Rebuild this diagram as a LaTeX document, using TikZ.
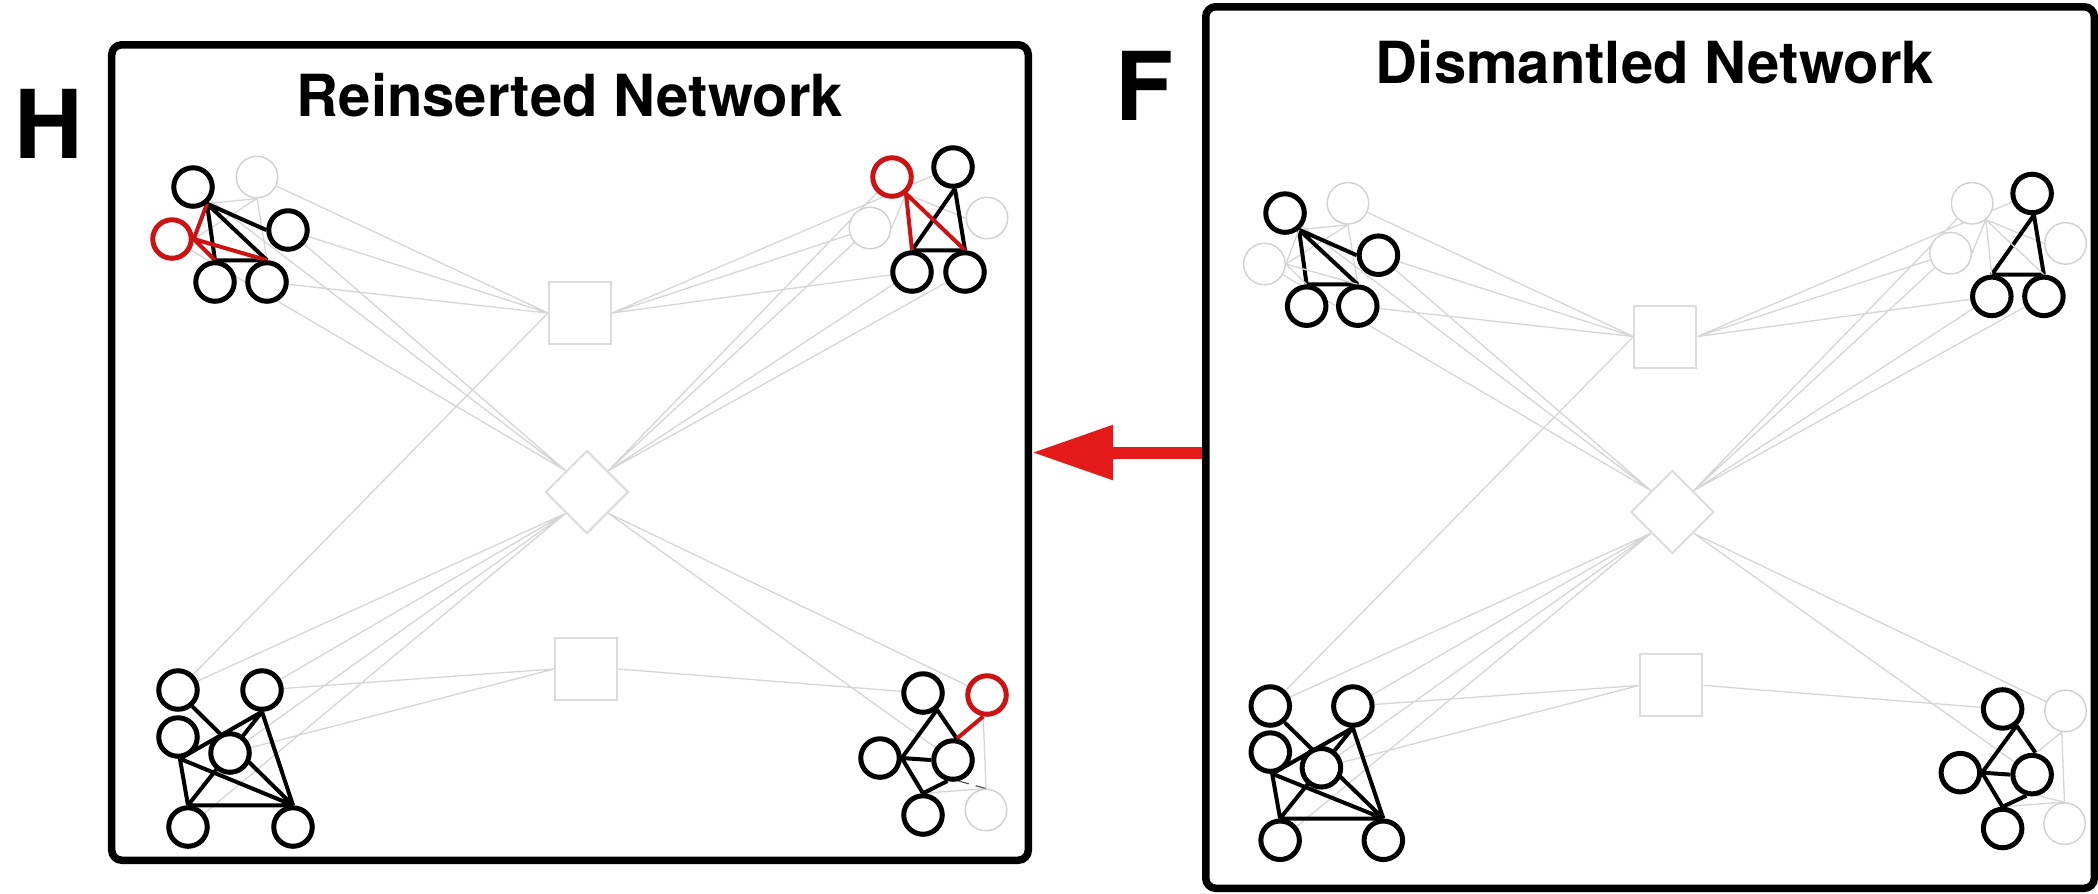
\documentclass[tikz,border=0pt]{standalone}
\usepackage{fontspec}
\setsansfont{TeX Gyre Heros}
\usetikzlibrary{shapes.geometric,arrows.meta}
\pgfdeclarelayer{bg}
\pgfdeclarelayer{edges}
\pgfsetlayers{bg,edges,main}

\definecolor{edgegray}{RGB}{214,214,214}
\definecolor{nodegray}{RGB}{208,208,208}
\definecolor{hubgray}{RGB}{220,220,220}
\definecolor{reinred}{RGB}{204,18,18}
\definecolor{arrowred}{RGB}{228,26,26}

\tikzset{
  blk/.style={circle, draw=black, line width=0.05cm, fill=white, minimum size=0.385cm, inner sep=0pt},
  gry/.style={circle, draw=nodegray, line width=0.014cm, fill=white, minimum size=0.415cm, inner sep=0pt},
  rein/.style={blk, draw=reinred},
  sqhub/.style={rectangle, draw=hubgray, line width=0.02cm, fill=white, minimum size=0.62cm, inner sep=0pt},
  dmhub/.style={diamond, draw=hubgray, line width=0.02cm, fill=white, minimum width=0.83cm, minimum height=0.83cm, inner sep=0pt},
  bedge/.style={draw=black, line width=0.04cm},
  gedge/.style={draw=edgegray, line width=0.013cm},
  redge/.style={draw=reinred, line width=0.04cm},
  dotedge/.style={draw=black!65, line width=0.012cm, densely dashed},
  panel/.style={draw=black, line width=0.075cm, rounded corners=0.1cm, inner sep=0pt},
  paneltitle/.style={font=\sffamily\bfseries\fontsize{16.5}{20}\selectfont, anchor=base, inner sep=0pt},
  panelletter/.style={font=\sffamily\bfseries\fontsize{27}{32}\selectfont, anchor=base, inner sep=0pt},
}

% One network: #1 name prefix, #2 style of the reinserted nodes,
% #3 style of their edges, #4 style of the short edge in the lower-right group
\newcommand\netlayer[4]{%
  % hub nodes
  \node[sqhub] (#1s1) at (580,313) {};
  \node[dmhub] (#1dm) at (587,492) {};
  \node[sqhub] (#1s2) at (586,669) {};
  % upper-left group
  \node[blk] (#1a1) at (193,187) {};
  \node[gry] (#1a2) at (257,177) {};
  \node[blk] (#1a3) at (288,230) {};
  \node[#2]  (#1a4) at (172,239) {};
  \node[blk] (#1a5) at (215,282) {};
  \node[blk] (#1a6) at (267,282) {};
  % upper-right group
  \node[#2]  (#1b1) at (892,177) {};
  \node[blk] (#1b2) at (953,167) {};
  \node[gry] (#1b3) at (870,228) {};
  \node[gry] (#1b4) at (987,218) {};
  \node[blk] (#1b5) at (912,272) {};
  \node[blk] (#1b6) at (965,272) {};
  % lower-left group
  \node[blk] (#1c1) at (178,690) {};
  \node[blk] (#1c2) at (262,690) {};
  \node[blk] (#1c3) at (178,737) {};
  \node[blk] (#1c4) at (230,753) {};
  \node[blk] (#1c5) at (188,827) {};
  \node[blk] (#1c6) at (293,827) {};
  % lower-right group
  \node[blk] (#1d1) at (923,693) {};
  \node[#2]  (#1d2) at (987,695) {};
  \node[blk] (#1d3) at (880,758) {};
  \node[blk] (#1d4) at (953,760) {};
  \node[blk] (#1d5) at (923,815) {};
  \node[gry] (#1d6) at (986,810) {};
  \begin{pgfonlayer}{edges}
    % links to the hubs
    \draw[gedge] (#1a2) -- (#1s1.west) (#1a3) -- (#1s1.west) (#1a6) -- (#1s1.west)
                 (#1a1) -- (#1dm.north west) (#1a3) -- (#1dm.north west) (#1a4) -- (#1dm.north west);
    \draw[gedge] (#1b2) -- (#1s1.east) (#1b3) -- (#1s1.east) (#1b5) -- (#1s1.east)
                 (#1b1) -- (#1dm.north east) (#1b3) -- (#1dm.north east)
                 (#1b5) -- (#1dm.north east) (#1b6) -- (#1dm.north east);
    \draw[gedge] (#1c1) -- (#1s1.west)
                 (#1c1) -- (#1dm.south west) (#1c2) -- (#1dm.south west)
                 (#1c4) -- (#1dm.south west) (#1c5) -- (#1dm.south west)
                 (#1c2) -- (#1s2.west) (#1c4) -- (#1s2.west);
    \draw[gedge] (#1d2) -- (#1dm.south east) (#1d4) -- (#1dm.south east) (#1d1) -- (#1s2.east);
    % links among the groups' nodes
    \draw[gedge] (#1a1.-50) -- (#1a2.-90) (#1a2.-90) -- (#1a4.0) (#1a2.-90) -- (#1a6.90);
    \draw[gedge] (#1b1.-50) -- (#1b4.180) (#1b1.-50) -- (#1b3.0);
    \draw[gedge] (#1d2.-100) -- (#1d6.90) (#1d6.90) -- (#1d5.90);
    \draw[#4] (#1d4.-75) -- (#1d6.90);
    \draw[bedge] (#1a1.-50) -- (#1a5.90) (#1a1.-50) -- (#1a6.90) (#1a1.-50) -- (#1a3.180)
                 (#1a5.90) -- (#1a6.90);
    \draw[bedge] (#1b2.-85) -- (#1b5.90) (#1b2.-85) -- (#1b6.90) (#1b5.90) -- (#1b6.90);
    \draw[bedge] (#1c1.-49) -- (#1c6.90) (#1c2.-90) -- (#1c6.90) (#1c2.-90) -- (#1c3.-85)
                 (#1c2.-90) -- (#1c5.90) (#1c3.-85) -- (#1c6.90) (#1c3.-85) -- (#1c5.90)
                 (#1c5.90) -- (#1c6.90);
    \draw[bedge] (#1d1.-50) -- (#1d3.0) (#1d1.-50) -- (#1d4.80) (#1d3.0) -- (#1d4.180)
                 (#1d3.0) -- (#1d5.90) (#1d5.90) -- (#1d4.-105);
    \draw[#3] (#1a4.0) -- (#1a1.-50) (#1a4.0) -- (#1a5.90) (#1a4.0) -- (#1a6.90);
    \draw[#3] (#1b1.-50) -- (#1b5.90) (#1b1.-50) -- (#1b6.90);
    \draw[#3] (#1d2.-100) -- (#1d4.80);
  \end{pgfonlayer}
}

\begin{document}
\begin{tikzpicture}[x=0.01cm, y=-0.01cm]
  \useasboundingbox (0,0) rectangle (2098,893);
  \begin{pgfonlayer}{bg}
    \fill[white] (0,0) rectangle (2098,893);
  \end{pgfonlayer}

  % panels
  \node[panel, minimum width=9.16cm, minimum height=8.15cm] (Hpanel) at (570,452.5) {};
  \node[panel, minimum width=8.88cm, minimum height=8.81cm] (Fpanel) at (1650,447.5) {};

  % titles and letters
  \node[paneltitle] (Htitle) at (570,116) {Reinserted Network};
  \node[paneltitle] (Ftitle) at (1655,83) {Dismantled Network};
  \node[panelletter] (Hletter) at (49,158) {H};
  \node[panelletter] (Fletter) at (1144,120) {F};

  % networks
  \netlayer{H}{rein}{redge}{dotedge}
  \begin{scope}[shift={(1095.3,29.8)}, xscale=0.983, yscale=0.98]
    \netlayer{F}{gry}{gedge}{gedge}
  \end{scope}

  % arrow from the dismantled to the reinserted network
  \draw[arrowred, line width=0.12cm, -{Triangle[length=0.81cm,width=0.52cm]}]
    (Fpanel.west |- Hpanel.east) -- (Hpanel.east);
\end{tikzpicture}
\end{document}
